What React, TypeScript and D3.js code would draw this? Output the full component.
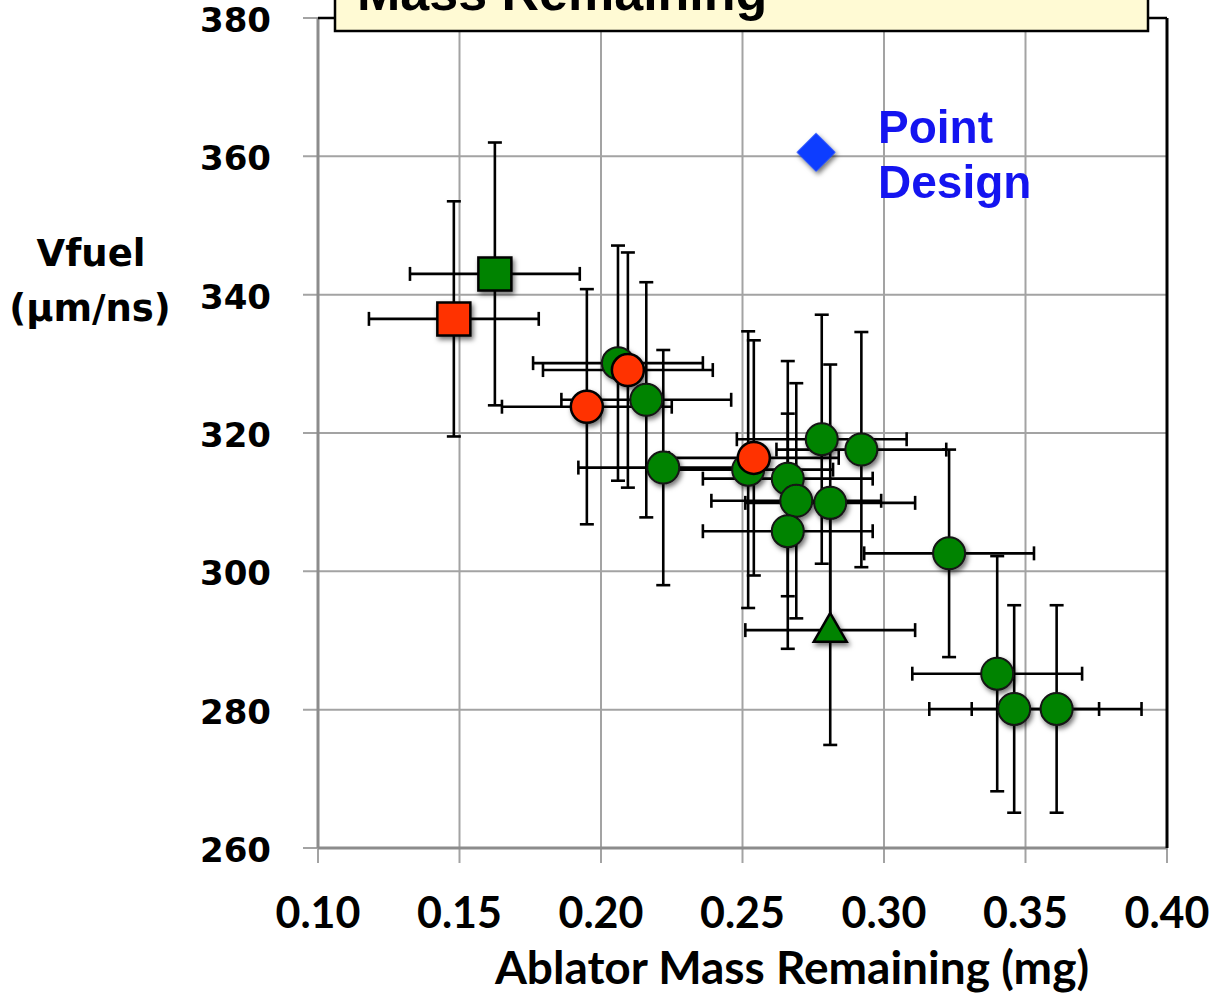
import React from "react";
import * as d3 from "d3";

const W = 1216;
const H = 998;

const xTicks = [0.1, 0.15, 0.2, 0.25, 0.3, 0.35, 0.4];
const yTicks = [260, 280, 300, 320, 340, 360, 380];

// [ablator mass (mg), Vfuel (µm/ns), mass error, Vfuel error]
type Shot = [number, number, number, number];

const greenCircles: Shot[] = [
  [0.206, 330.1, 0.03, 17],
  [0.216, 324.8, 0.03, 17],
  [0.222, 315.0, 0.03, 17],
  [0.252, 314.7, 0.03, 20],
  [0.266, 313.4, 0.03, 17],
  [0.269, 310.2, 0.03, 17],
  [0.266, 305.8, 0.03, 17],
  [0.278, 319.1, 0.03, 18],
  [0.281, 309.9, 0.03, 20],
  [0.292, 317.6, 0.03, 17],
  [0.323, 302.6, 0.03, 15],
  [0.34, 285.2, 0.03, 17],
  [0.346, 280.1, 0.03, 15],
  [0.361, 280.1, 0.03, 15],
];

const redCircles: Shot[] = [
  [0.195, 323.8, 0.03, 17],
  [0.2095, 329.1, 0.03, 17],
  [0.254, 316.4, 0.03, 17],
];

const redSquares: Shot[] = [[0.148, 336.5, 0.03, 17]];
const greenSquares: Shot[] = [[0.1625, 343.0, 0.03, 19]];
const greenTriangles: Shot[] = [[0.281, 291.5, 0.03, 16.6]];

const pointDesign: [number, number] = [0.276, 360.6];

const GREEN = "#008300";
const RED = "#ff3300";
const BLUE = "#0a3cff";
const GRID = "#a3a3a3";

const x = d3.scaleLinear().domain([0.1, 0.4]).range([318, 1167]);
const y = d3.scaleLinear().domain([260, 380]).range([848, 18]);

const CAP = 7;

function ErrorBars({ d }: { d: Shot }) {
  const [mx, vy, ex, ey] = d;
  const cx = x(mx);
  const cy = y(vy);
  const x0 = x(mx - ex);
  const x1 = x(mx + ex);
  const y0 = y(vy - ey);
  const y1 = y(vy + ey);
  return (
    <g stroke="#000" strokeWidth={2.6} fill="none">
      <line x1={x0} x2={x1} y1={cy} y2={cy} />
      <line x1={x0} x2={x0} y1={cy - CAP} y2={cy + CAP} />
      <line x1={x1} x2={x1} y1={cy - CAP} y2={cy + CAP} />
      <line x1={cx} x2={cx} y1={y0} y2={y1} />
      <line x1={cx - CAP} x2={cx + CAP} y1={y0} y2={y0} />
      <line x1={cx - CAP} x2={cx + CAP} y1={y1} y2={y1} />
    </g>
  );
}

const squarePath = d3.symbol().type(d3.symbolSquare).size(1089)()!;
const trianglePath = d3.symbol().type(d3.symbolTriangle).size(470)()!;
const diamondPath = d3.symbol().type(d3.symbolSquare).size(760)()!;

export default function App() {
  const allShots = [
    ...greenCircles,
    ...redCircles,
    ...redSquares,
    ...greenSquares,
    ...greenTriangles,
  ];
  return (
    <svg
      width={W}
      height={H}
      style={{ position: "absolute", left: 0, top: 0, background: "#fff" }}
    >
      <defs>
        <filter id="shadow" x="-60%" y="-60%" width="220%" height="220%">
          <feDropShadow dx="2" dy="3" stdDeviation="2.6" floodColor="#000" floodOpacity="0.55" />
        </filter>
      </defs>
      <rect x={0} y={0} width={W} height={H} fill="#fff" />

      {/* grid */}
      <g stroke={GRID} strokeWidth={2}>
        {xTicks.map((t) => (
          <line key={"gx" + t} x1={x(t)} x2={x(t)} y1={y(380)} y2={y(260) + 15} />
        ))}
        {yTicks.map((t) => (
          <line key={"gy" + t} x1={x(0.1) - 15} x2={x(0.4)} y1={y(t)} y2={y(t)} />
        ))}
      </g>
      {/* axes */}
      <line x1={x(0.1)} x2={x(0.1)} y1={y(380)} y2={y(260)} stroke="#8c8c8c" strokeWidth={3} />
      <line x1={x(0.1)} x2={x(0.4)} y1={y(260)} y2={y(260)} stroke="#8c8c8c" strokeWidth={3} />
      <line x1={x(0.1)} x2={x(0.4)} y1={y(380)} y2={y(380)} stroke="#000" strokeWidth={2.5} />
      <line x1={x(0.4)} x2={x(0.4)} y1={y(380)} y2={y(260)} stroke="#000" strokeWidth={3} />

      {/* tick labels */}
      <g fontFamily="'DejaVu Sans', Verdana, sans-serif" fontWeight="bold" fontSize={34} textAnchor="end">
        {yTicks.map((t) => (
          <text key={"ty" + t} x={271} y={y(t) + 14}>
            {t}
          </text>
        ))}
      </g>
      <g fontFamily="Lato, 'Open Sans', sans-serif" fontWeight="bold" fontSize={43} textAnchor="middle">
        {xTicks.map((t) => (
          <text key={"tx" + t} x={x(t)} y={928}>
            {t.toFixed(2)}
          </text>
        ))}
      </g>
      <text
        x={792}
        y={984}
        fontFamily="Lato, 'Open Sans', sans-serif"
        fontWeight="bold"
        fontSize={46}
        textAnchor="middle"
      >
        Ablator Mass Remaining (mg)
      </text>
      <g fontFamily="'DejaVu Sans', Verdana, sans-serif" fontWeight="bold" fontSize={37} textAnchor="middle">
        <text x={91} y={266}>Vfuel</text>
        <text x={90} y={321}>(µm/ns)</text>
      </g>

      {/* error bars */}
      {allShots.map((d, i) => (
        <ErrorBars key={"eb" + i} d={d} />
      ))}

      {/* markers */}
      <g filter="url(#shadow)">
        {greenCircles.map((d, i) => (
          <circle key={"gc" + i} cx={x(d[0])} cy={y(d[1])} r={16} fill={GREEN} stroke="#141414" strokeWidth={2} />
        ))}
        {redCircles.map((d, i) => (
          <circle key={"rc" + i} cx={x(d[0])} cy={y(d[1])} r={16} fill={RED} stroke="#000" strokeWidth={2.5} />
        ))}
        {redSquares.map((d, i) => (
          <path key={"rs" + i} d={squarePath} transform={`translate(${x(d[0])},${y(d[1])})`} fill={RED} stroke="#000" strokeWidth={2.5} />
        ))}
        {greenSquares.map((d, i) => (
          <path key={"gs" + i} d={squarePath} transform={`translate(${x(d[0])},${y(d[1])})`} fill={GREEN} stroke="#000" strokeWidth={2.5} />
        ))}
        {greenTriangles.map((d, i) => (
          <path key={"gt" + i} d={trianglePath} transform={`translate(${x(d[0])},${y(d[1]) + 2})`} fill={GREEN} stroke="#000" strokeWidth={2.5} />
        ))}
        <path
          d={diamondPath}
          transform={`translate(${x(pointDesign[0])},${y(pointDesign[1])}) rotate(45)`}
          fill={BLUE}
        />
      </g>

      <g fontFamily="'Liberation Sans', Arial, sans-serif" fontWeight="bold" fontSize={46} fill="#1414f0">
        <text x={878} y={143}>Point</text>
        <text x={878} y={198}>Design</text>
      </g>

      {/* title box */}
      <rect x={335} y={-70} width={813} height={101} fill="#fffad4" stroke="#000" strokeWidth={2.5} />
      <text x={357} y={10} fontFamily="'Liberation Sans', Arial, sans-serif" fontWeight="bold" fontSize={52} fill="#000">
        Mass Remaining
      </text>
    </svg>
  );
}
